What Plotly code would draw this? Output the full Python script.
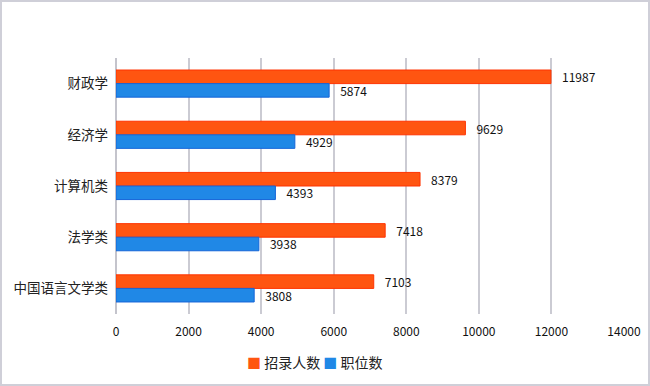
import plotly.graph_objects as go

categories = ["财政学", "经济学", "计算机类", "法学类", "中国语言文学类"]
recruits = [11987, 9629, 8379, 7418, 7103]
positions = [5874, 4929, 4393, 3938, 3808]
x_ticks = [0, 2000, 4000, 6000, 8000, 10000, 12000, 14000]
series_names = ["招录人数", "职位数"]
series_colors = ["#FF5511", "#2088E6"]

font_family = "Noto Sans CJK SC, Noto Sans, sans-serif"

fig = go.Figure()
fig.add_trace(go.Bar(
    y=categories, x=recruits, name=series_names[0], orientation="h",
    marker=dict(color=series_colors[0], line=dict(color="#FF3300", width=1)),
    text=[str(v) for v in recruits], texttemplate="   %{text}",
    textposition="outside", cliponaxis=False, constraintext="none",
    textfont=dict(size=12, color="#111111", family=font_family),
))
fig.add_trace(go.Bar(
    y=categories, x=positions, name=series_names[1], orientation="h",
    marker=dict(color=series_colors[1], line=dict(color="#1565D8", width=1)),
    text=[str(v) for v in positions], texttemplate="   %{text}",
    textposition="outside", cliponaxis=False, constraintext="none",
    textfont=dict(size=12, color="#111111", family=font_family),
))

W, H = 650, 386
ml, mr, mt, mb = 116, 26, 58, 72
pw, ph = W - ml - mr, H - mt - mb

legend_text = " ".join(
    f"<span style='color:{c}'>■</span> {n}" for n, c in zip(series_names, series_colors)
)

fig.update_layout(
    width=W, height=H,
    margin=dict(l=ml, r=mr, t=mt, b=mb, autoexpand=False),
    paper_bgcolor="white", plot_bgcolor="white",
    barmode="group", bargap=0.47, bargroupgap=0,
    font=dict(family=font_family, size=12, color="#111111"),
    xaxis=dict(
        range=[0, 14000], tickvals=x_ticks, ticktext=[str(v) for v in x_ticks],
        showgrid=True, gridcolor="#CBCBD3", gridwidth=1.5,
        zeroline=True, zerolinecolor="#C4C4CC", zerolinewidth=1.5,
        showline=False, ticks="", ticklabelstandoff=9, automargin=False,
        tickfont=dict(size=12, color="#111111"),
    ),
    yaxis=dict(
        autorange="reversed", showgrid=False, showline=False, ticks="",
        ticklabelstandoff=7, automargin=False,
        tickfont=dict(size=13.5, color="#222222"),
    ),
    showlegend=False,
    annotations=[dict(
        xref="paper", yref="paper", x=(314 - ml) / pw, y=-(362 - mt - ph) / ph,
        xanchor="center", yanchor="middle", showarrow=False,
        text=legend_text, font=dict(size=14, color="#222222", family=font_family),
    )],
    shapes=[dict(
        type="rect", xref="paper", yref="paper",
        x0=(1 - ml) / pw, x1=(W - 1 - ml) / pw,
        y0=-(mb - 1) / ph, y1=(ph + mt - 1) / ph,
        line=dict(color="#CFCFD8", width=2), fillcolor="rgba(0,0,0,0)", layer="below",
    )],
)

fig.write_html(
    "out.html",
    config={"displayModeBar": False},
    post_script="document.body.style.margin='0';document.body.style.overflow='hidden';",
)
